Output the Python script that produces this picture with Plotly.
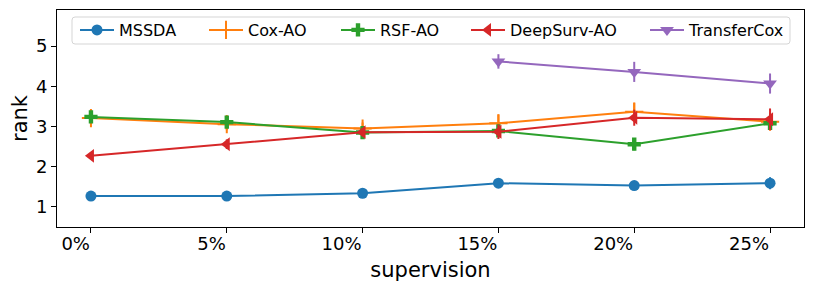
import plotly.graph_objects as go

supervision = [0, 5, 10, 15, 20, 25]
tick_labels = ["0%", "5%", "10%", "15%", "20%", "25%"]

mssda = [1.27, 1.27, 1.34, 1.59, 1.53, 1.59]
mssda_err = [0.07, 0.09, 0.12, 0.12, 0.11, 0.15]

cox_ao = [3.21, 3.06, 2.95, 3.08, 3.37, 3.12]
cox_ao_err = [0.15, 0.15, 0.15, 0.22, 0.22, 0.12]

rsf_ao = [3.24, 3.11, 2.85, 2.89, 2.56, 3.08]
rsf_ao_err = [0.1, 0.1, 0.1, 0.1, 0.15, 0.1]

deepsurv_ao = [2.27, 2.56, 2.86, 2.87, 3.22, 3.18]
deepsurv_ao_err = [0.08, 0.12, 0.1, 0.18, 0.2, 0.27]

transfercox_x = [15, 20, 25]
transfercox = [4.62, 4.36, 4.07]
transfercox_err = [0.18, 0.25, 0.25]

series = [
    ("MSSDA", supervision, mssda, mssda_err, "#1f77b4", "circle", 11),
    ("Cox-AO", supervision, cox_ao, cox_ao_err, "#ff7f0e", "cross-thin", 13),
    ("RSF-AO", supervision, rsf_ao, rsf_ao_err, "#2ca02c", "cross", 11),
    ("DeepSurv-AO", supervision, deepsurv_ao, deepsurv_ao_err, "#d62728", "triangle-left", 12),
    ("TransferCox", transfercox_x, transfercox, transfercox_err, "#9467bd", "triangle-down", 12),
]

# page is rendered with an 8px body margin, so the figure is sized 8px smaller
W, H = 806, 283
ML, MR, MT, MB = 49, 10, 2, 64
PW, PH = W - ML - MR, H - MT - MB

def px_x(p):  # page pixel -> paper x
    return (p - 8 - ML) / PW

def px_y(p):  # page pixel -> paper y
    return (H - MB - (p - 8)) / PH

legend_starts = [75, 204, 336, 466, 645]
legend_names = ["legend", "legend2", "legend3", "legend4", "legend5"]

fig = go.Figure()
for i, (name, xs, ys, errs, color, sym, size) in enumerate(series):
    fig.add_trace(go.Scatter(
        x=xs, y=ys, name=name, mode="lines+markers",
        legend=legend_names[i],
        line=dict(color=color, width=2),
        marker=dict(symbol=sym, size=size, color=color,
                    line=dict(color=color, width=2 if sym == "cross-thin" else 0)),
        error_y=dict(type="data", array=errs, visible=True, color=color,
                     thickness=2, width=0),
    ))

font_family = "DejaVu Sans"
legend_common = dict(orientation="h", yanchor="middle", xanchor="left",
                     bgcolor="rgba(0,0,0,0)", borderwidth=0,
                     font=dict(size=16, family=font_family), itemwidth=34)
layout_legends = {}
for ln, xs in zip(legend_names, legend_starts):
    layout_legends[ln] = dict(legend_common, x=px_x(xs), y=px_y(30))

# rounded legend frame
x0, x1, y0, y1 = px_x(72), px_x(790), px_y(44), px_y(17)
rx, ry = 3 / PW, 3 / PH
frame_path = (f"M {x0+rx},{y1} L {x1-rx},{y1} Q {x1},{y1} {x1},{y1-ry} "
              f"L {x1},{y0+ry} Q {x1},{y0} {x1-rx},{y0} L {x0+rx},{y0} "
              f"Q {x0},{y0} {x0},{y0+ry} L {x0},{y1-ry} Q {x0},{y1} {x0+rx},{y1} Z")

fig.update_layout(
    width=W, height=H,
    margin=dict(l=ML, r=MR, t=MT, b=MB, autoexpand=False),
    paper_bgcolor="white", plot_bgcolor="white",
    font=dict(family=font_family, color="black", size=18),
    showlegend=True,
    **layout_legends,
    shapes=[dict(type="path", xref="paper", yref="paper", path=frame_path,
                 line=dict(color="#d5d5d5", width=1),
                 fillcolor="rgba(255,255,255,0.8)", layer="above")],
    xaxis=dict(range=[-1.25, 26.25], tickmode="array", tickvals=supervision,
               ticktext=tick_labels, showline=True, linecolor="black", linewidth=1,
               mirror=True, ticks="outside", ticklen=5, tickcolor="black",
               showgrid=False, zeroline=False, ticklabelposition="outside left",
               tickfont=dict(size=18), automargin=False,
               title=dict(text="supervision", font=dict(size=21), standoff=9)),
    yaxis=dict(range=[0.5, 5.9], tickvals=[1, 2, 3, 4, 5],
               showline=True, linecolor="black", linewidth=1,
               mirror=True, ticks="outside", ticklen=5, tickcolor="black",
               showgrid=False, zeroline=False, tickfont=dict(size=18), automargin=False,
               title=dict(text="rank", font=dict(size=21), standoff=8)),
)

fig.write_html("out.html")
